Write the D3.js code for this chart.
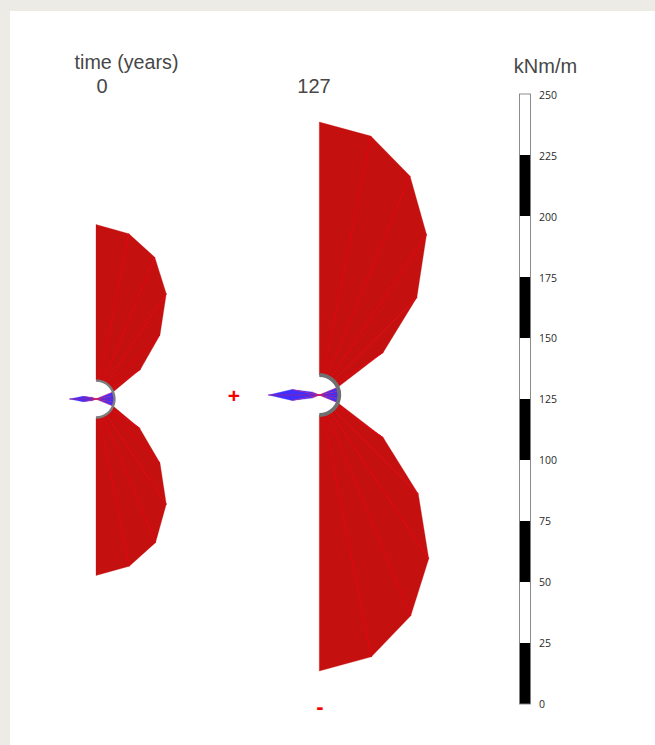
<!DOCTYPE html>
<html><head><meta charset="utf-8">
<script src="https://cdn.jsdelivr.net/npm/d3@7/dist/d3.min.js"></script>
<style>html,body{margin:0;padding:0;background:#ecebe6;overflow:hidden}svg{display:block}</style>
</head><body><svg id="c" width="655" height="745"></svg>
<script>
// Angle from crown (deg), clockwise, of each lining node
const angles = [0,11.25,22.5,33.75,45,56.25,67.5,78.75,90,101.25,112.5,123.75,135,146.25,157.5,168.75,180];
// Moments kNm/m: positive outward (red), negative inward (blue)
const moments0   = [156,150,135,108,72,35,-23,-32,-45,-32,-23,34,72,108,137,152,158];
const moments127 = [253,244,217,173,118,57,-28,-48,-71,-48,-28,57,120,177,219,247,256];
const times = ["0","127"];
const barTicks = [0,25,50,75,100,125,150,175,200,225,250];

const svg = d3.select("#c");
svg.append("rect").attr("x",10).attr("y",11).attr("width",645).attr("height",734).attr("fill","#fff");

const momentScale = d3.scaleLinear().domain([0,250]).range([0,250]);
const angleScale = d3.scaleLinear().domain([0,360]).range([0,2*Math.PI]);
const RED="#c4100f", SPOKE="#e4000e", BLUE="#4030ff";

function drawDiagram(cx,cy,R,sw,arcCol,values){
  const g = svg.append("g").attr("transform",`translate(${cx},${cy})`);
  const pt=(deg,r)=>{const a=angleScale(deg);return [r*Math.sin(a),-r*Math.cos(a)];};
  const inner=[],outer=[];
  angles.forEach((d,i)=>{inner.push(pt(d,R));outer.push(pt(d,R+momentScale(values[i])));});
  const line=d3.line();
  const reds=g.append("g"), blues=g.append("g"), spokes=g.append("g");
  const add=(sel,pts,col)=>sel.append("path").attr("d",line(pts)+"Z").attr("fill",col).attr("stroke",col).attr("stroke-width",0.3);
  for(let i=0;i<angles.length-1;i++){
    const a=values[i],b=values[i+1];
    if(a*b>=0){
      add(a>0?reds:blues,[inner[i],outer[i],outer[i+1],inner[i+1]],a>0?RED:BLUE);
    }else if(a>0){
      add(reds,[inner[i],outer[i],inner[i+1]],RED);
    }else{
      add(reds,[inner[i],outer[i+1],inner[i+1]],RED);
    }
  }
  angles.forEach((d,i)=>{
    if(i===0||i===angles.length-1) return;
    spokes.append("line").attr("x1",inner[i][0]).attr("y1",inner[i][1]).attr("x2",outer[i][0]).attr("y2",outer[i][1])
      .attr("stroke",values[i]>0?SPOKE:"#f0103a").attr("stroke-width",values[i]>0?1:0.45);
  });
  const arc=d3.arc().innerRadius(R-sw/2).outerRadius(R+sw/2).startAngle(0).endAngle(Math.PI);
  g.append("path").attr("d",arc()).attr("fill",arcCol);
}
drawDiagram(96,399,18.5,2.4,"#7d7e80",moments0);
drawDiagram(319.3,395,20,3.8,"#6f7072",moments127);

const font="Liberation Sans, Arial, sans-serif", ink="#474747";
const txt=(x,y,s,size,anchor="middle",col=ink,w="normal")=>svg.append("text").attr("x",x).attr("y",y).attr("text-anchor",anchor)
  .attr("font-family",font).attr("font-size",size).attr("font-weight",w).attr("fill",col).text(s);
txt(126.5,69,"time (years)",19.7);
txt(102,92.5,times[0],20);
txt(314,92.5,times[1],20);
txt(545.5,73,"kNm/m",20);
txt(234,403,"+",21,"middle","#f80000","bold");
txt(320,713.5,"-",22,"middle","#f80000","bold");

// colour bar
const y=d3.scaleLinear().domain([0,250]).range([704,94]);
const yLabels=d3.scaleLinear().domain([0,250]).range([704,95]);
const bar=svg.append("g");
d3.pairs(barTicks).forEach(([a,b],i)=>{
  bar.append("rect").attr("x",519.5).attr("width",11).attr("y",y(b)).attr("height",y(a)-y(b))
    .attr("fill",i%2===0?"#000":"#fff");
});
bar.append("rect").attr("x",519.5).attr("y",y(250)).attr("width",11).attr("height",y(0)-y(250))
  .attr("fill","none").attr("stroke","#808080").attr("stroke-width",0.9);
const ax=svg.append("g").attr("transform","translate(530,0)")
  .call(d3.axisRight(yLabels).tickValues(barTicks).tickSize(0).tickPadding(9));
ax.select(".domain").remove();
ax.selectAll("text").attr("font-family","Open Sans, sans-serif").attr("font-size",10.5).attr("fill","#2a2a2a");
</script></body></html>
